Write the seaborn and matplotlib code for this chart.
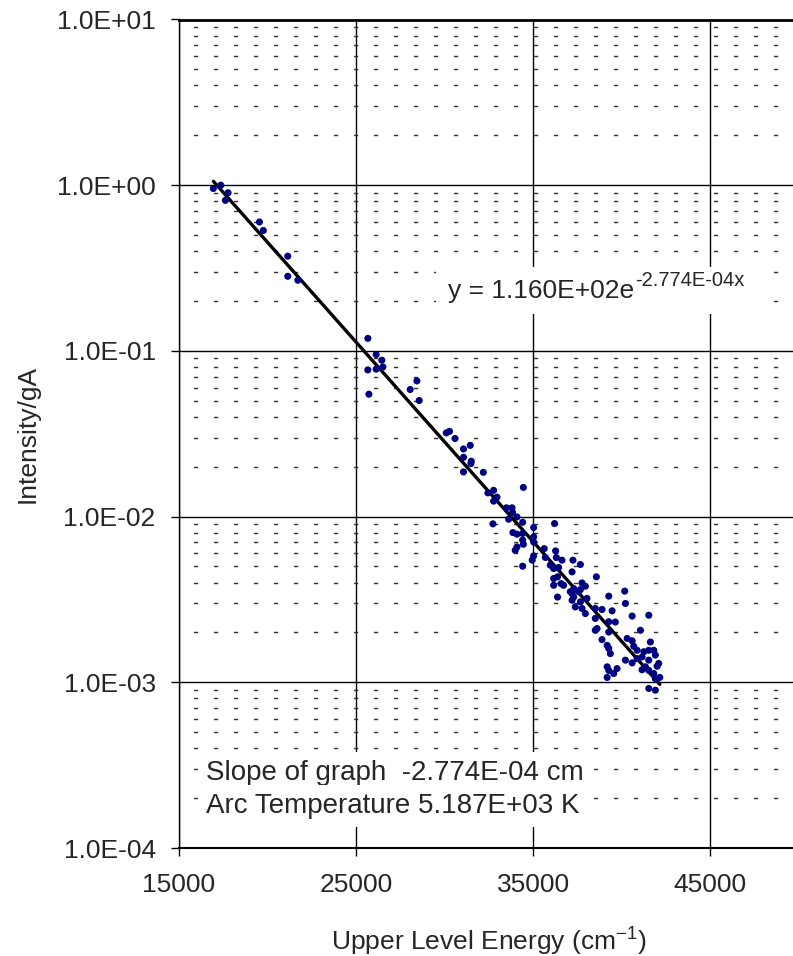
import numpy as np
import pandas as pd
import matplotlib
matplotlib.use("Agg")
import matplotlib.pyplot as plt
import seaborn as sns
from matplotlib.patches import Rectangle
from matplotlib.ticker import FixedLocator, FuncFormatter, LogLocator, NullFormatter

# upper level energy (cm^-1) and intensity/gA
energy = [
    16940, 17360, 17770, 17620, 19540, 19760, 21140, 21140, 21710,
    25660, 26130, 26450, 25660, 26130, 26510, 25720, 28430, 28050, 28560,
    30090, 30270, 30580, 31440, 31060, 31060, 31500, 31480, 31060, 32180,
    32440, 32760, 32950, 34440, 32760, 33480, 33800, 33830, 33610, 34080,
    32720, 34400, 36200, 33850, 34080, 34400, 35020, 34400, 35020, 34440,
    35020, 34080, 33980, 35620, 36260, 35020, 35680, 36300, 34400, 36620,
    37240, 36150, 36430, 37660, 37190, 36150, 36370, 38560, 36150, 36570,
    37750, 37940, 37280, 37660, 36370, 37190, 37280, 39260, 40160, 36710,
    37090, 37560, 37190, 37660, 38030, 40200, 37370, 37750, 37940, 38500,
    38880, 39450, 38500, 39260, 39630, 40580, 41520, 38600, 38500, 39260,
    41050, 38880, 40300, 40580, 39170, 39260, 40670, 40860, 41240, 41610,
    41520, 41800, 39350, 40200, 40580, 40860, 41140, 41890, 41520, 42080,
    41990, 39170, 39730, 41330, 39260, 39540, 41140, 41520, 41800, 39170,
    41890, 42140, 41520, 41890, 34940, 35960,
]
intensity = [
    0.955, 1.00, 0.90, 0.81, 0.60, 0.533, 0.373, 0.282, 0.267,
    0.119, 0.0951, 0.0879, 0.0768, 0.0776, 0.080, 0.0548, 0.0659, 0.0585, 0.0502,
    0.032, 0.0327, 0.0296, 0.0269, 0.0256, 0.0228, 0.0216, 0.0209, 0.0186, 0.0185,
    0.0139, 0.0144, 0.0131, 0.0150, 0.0124, 0.0113, 0.0113, 0.0106, 0.00964, 0.00995,
    0.00904, 0.00924, 0.00908, 0.00801, 0.00783, 0.00791, 0.00859, 0.00722, 0.00755, 0.00681,
    0.00703, 0.00656, 0.00626, 0.00641, 0.00621, 0.00579, 0.00567, 0.00566, 0.00502, 0.00546,
    0.00546, 0.00486, 0.00493, 0.00514, 0.00464, 0.00423, 0.00433, 0.00433, 0.00385, 0.00394,
    0.00398, 0.00380, 0.00368, 0.00363, 0.00327, 0.00343, 0.00327, 0.00331, 0.00355, 0.00385,
    0.00352, 0.00352, 0.00313, 0.00306, 0.00321, 0.00299, 0.00285, 0.00279, 0.00260, 0.00279,
    0.00275, 0.00270, 0.00243, 0.00232, 0.00231, 0.00251, 0.00254, 0.00211, 0.00206, 0.00201,
    0.00206, 0.00181, 0.00184, 0.00178, 0.00167, 0.00160, 0.00165, 0.00156, 0.00153, 0.00175,
    0.00156, 0.00156, 0.00149, 0.00136, 0.00131, 0.00139, 0.00142, 0.00146, 0.00136, 0.00130,
    0.00125, 0.00124, 0.00121, 0.00124, 0.00118, 0.00113, 0.00119, 0.00118, 0.00113, 0.00107,
    0.00105, 0.00107, 0.000918, 0.000896, 0.00546, 0.00509,
]

# exponential trendline reported on the chart
fit_a = 1.160e2
fit_k = -2.774e-4

x_ticks = [15000, 25000, 35000, 45000]
y_ticks = [1e-4, 1e-3, 1e-2, 1e-1, 1e0, 1e1]

sns.set_style("white")
plt.rcParams["font.family"] = ["Liberation Sans", "DejaVu Sans"]
plt.rcParams["mathtext.fontset"] = "custom"
plt.rcParams["mathtext.rm"] = "Liberation Sans"

df = pd.DataFrame({"energy": energy, "intensity": intensity})
fit_x = np.linspace(min(energy), max(energy), 50)
fit_df = pd.DataFrame({"energy": fit_x, "intensity": fit_a * np.exp(fit_k * fit_x)})

fig = plt.figure(figsize=(7.93, 9.56), dpi=100)
ax = fig.add_axes([179 / 793, 108 / 956, 620 / 793, 828.5 / 956])
ax.set_yscale("log")
ax.set_xlim(15000, 50000)
ax.set_ylim(1e-4, 1e1)

# gridlines: solid at decades / major x, short dashes at minor decades
ax.yaxis.set_major_locator(FixedLocator(y_ticks))
ax.yaxis.set_minor_locator(LogLocator(base=10, subs=np.arange(2, 10)))
ax.yaxis.set_minor_formatter(NullFormatter())
ax.xaxis.set_major_locator(FixedLocator(x_ticks))
ax.grid(True, which="major", axis="both", color="black", linewidth=1)
ax.grid(True, which="minor", axis="y", color="#333333", linewidth=1,
        linestyle=(4, (3.1, 11.3)))
ax.set_axisbelow(True)

sns.lineplot(data=fit_df, x="energy", y="intensity", ax=ax, color="black",
             linewidth=2.4, zorder=3)
sns.scatterplot(data=df, x="energy", y="intensity", ax=ax, color="#000080",
                s=26, edgecolor="none", zorder=4)

ax.yaxis.set_major_formatter(FuncFormatter(lambda v, p: f"{v:.1E}"))
ax.tick_params(axis="both", which="major", direction="out", length=5.8,
               width=1, labelsize=19, color="black", left=True, bottom=True)
ax.tick_params(axis="y", which="minor", length=0)
ax.tick_params(axis="y", pad=11)
ax.tick_params(axis="x", pad=12)
for s in ax.spines.values():
    s.set_color("black")
    s.set_linewidth(1)
ax.spines["top"].set_linewidth(2)
ax.spines["bottom"].set_linewidth(1.5)

ax.set_xlabel("Upper Level Energy (cm$^{\\mathregular{-1}}$)", fontsize=19, va="center")
ax.xaxis.set_label_coords(0.5, -0.112)
ax.set_ylabel("Intensity/gA", fontsize=19, va="center")
ax.yaxis.set_label_coords(-0.244, 0.5)

# trendline equation on a white label box
ax.add_patch(Rectangle((0.415, 0.645), 0.525, 0.056, transform=ax.transAxes,
                       facecolor="white", edgecolor="none", zorder=4.5))
eq = ax.text(0.434, 0.6638, "y = 1.160E+02e", transform=ax.transAxes,
             fontsize=19, va="baseline", ha="left", zorder=5)
ax.annotate("-2.774E-04x", xy=(1, 0), xycoords=eq, xytext=(0.5, 12),
            textcoords="offset points", fontsize=14.5, va="baseline", ha="left",
            zorder=5)

ax.text(0.0435, 0.0821, "Slope of graph  -2.774E-04 cm", transform=ax.transAxes,
        fontsize=20, va="baseline", ha="left",
        bbox=dict(facecolor="white", edgecolor="none", pad=6), zorder=5)
ax.text(0.0435, 0.0422, "Arc Temperature 5.187E+03 K", transform=ax.transAxes,
        fontsize=20, va="baseline", ha="left",
        bbox=dict(facecolor="white", edgecolor="none", pad=6), zorder=5)

fig.savefig("out.png", dpi=100)
